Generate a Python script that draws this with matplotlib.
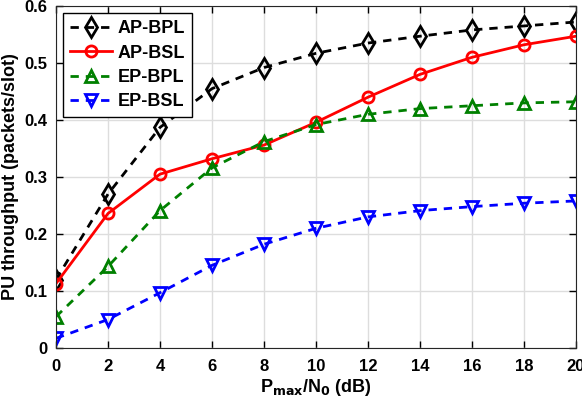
import matplotlib
matplotlib.use("Agg")
import matplotlib.pyplot as plt

plt.rcParams['font.family'] = ['Liberation Sans', 'DejaVu Sans']
plt.rcParams['font.weight'] = 'bold'
plt.rcParams['mathtext.default'] = 'bf'

snr_db = [0, 2, 4, 6, 8, 10, 12, 14, 16, 18, 20]
ap_bpl = [0.120, 0.270, 0.387, 0.455, 0.492, 0.517, 0.535, 0.547, 0.558, 0.565, 0.572]
ap_bsl = [0.113, 0.236, 0.305, 0.332, 0.356, 0.396, 0.440, 0.480, 0.510, 0.532, 0.547]
ep_bpl = [0.055, 0.143, 0.241, 0.316, 0.362, 0.392, 0.410, 0.420, 0.425, 0.430, 0.432]
ep_bsl = [0.017, 0.050, 0.097, 0.145, 0.182, 0.210, 0.230, 0.241, 0.248, 0.254, 0.258]

fig = plt.figure(figsize=(5.82, 4.11), dpi=100)
ax = fig.add_axes([56/582, 63/411, 520/582, 342/411])

ax.plot(snr_db, ap_bpl, color="black", lw=2, marker="d", ms=10, mfc="none", mew=2,
        label="AP-BPL", dashes=(3, 2.5))
ax.plot(snr_db, ap_bsl, color="red", ls="-", lw=2, marker="o", ms=8, mfc="none", mew=2,
        label="AP-BSL")
ax.plot(snr_db, ep_bpl, color="green", lw=2, marker="^", ms=9, mfc="none", mew=2,
        label="EP-BPL", dashes=(3, 2.5))
ax.plot(snr_db, ep_bsl, color="blue", lw=2, marker="v", ms=9, mfc="none", mew=2,
        label="EP-BSL", dashes=(3, 2.5))

ax.set_xlim(0, 20)
ax.set_ylim(0, 0.6)
ax.set_xticks(range(0, 21, 2))
ax.set_yticks([0, 0.1, 0.2, 0.3, 0.4, 0.5, 0.6])
ax.set_yticklabels(["0", "0.1", "0.2", "0.3", "0.4", "0.5", "0.6"])
ax.tick_params(direction="in", top=True, right=True, labelsize=12, width=1, length=5)
ax.tick_params(axis="x", pad=8)
ax.tick_params(axis="y", pad=6)
ax.grid(True, color="#dddddd", lw=1)
for s in ax.spines.values():
    s.set_color("#262626")

ax.set_xlabel("P$_{\\mathbf{max}}$/N$_{\\mathbf{0}}$ (dB)", fontsize=13, fontweight="bold",
              labelpad=2)
ax.set_ylabel("PU throughput (packets/slot)", fontsize=13, fontweight="bold")

leg = ax.legend(loc="upper left", fontsize=13, fancybox=False, edgecolor="black",
                framealpha=1, handlelength=2.3, labelspacing=0.4, handletextpad=0.3,
                borderaxespad=0.4)
leg.get_frame().set_linewidth(1)

fig.savefig("out.png", dpi=100)
